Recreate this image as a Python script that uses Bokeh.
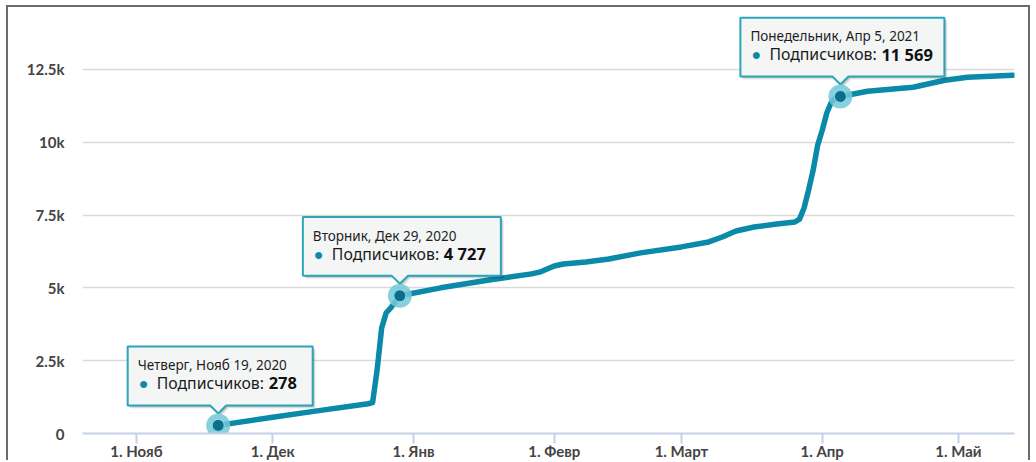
from datetime import datetime, timezone
from bokeh.plotting import figure
from bokeh.models import Range1d, FixedTicker, ColumnDataSource
from bokeh.embed import file_html
from bokeh.resources import INLINE
from bokeh.core.properties import value

# ---------------- data ----------------
dates = ["2020-11-19", "2020-12-01", "2020-12-10", "2020-12-22", "2020-12-23",
         "2020-12-24", "2020-12-25", "2020-12-26", "2020-12-27", "2020-12-28",
         "2020-12-29", "2021-01-07", "2021-01-18", "2021-01-27", "2021-01-29",
         "2021-02-01", "2021-02-03", "2021-02-08", "2021-02-13", "2021-02-20",
         "2021-03-01", "2021-03-07", "2021-03-10", "2021-03-13", "2021-03-17",
         "2021-03-22", "2021-03-26", "2021-03-27", "2021-03-28", "2021-03-29",
         "2021-03-30", "2021-03-31", "2021-04-01", "2021-04-02", "2021-04-03",
         "2021-04-04", "2021-04-05", "2021-04-11", "2021-04-16", "2021-04-21",
         "2021-04-24", "2021-04-28", "2021-05-03", "2021-05-08", "2021-05-13"]
subscribers = [278, 560, 760, 1020, 1060,
               2190, 3630, 4145, 4315, 4520,
               4727, 5000, 5275, 5480, 5550,
               5750, 5820, 5890, 5990, 6200,
               6405, 6575, 6745, 6950, 7090,
               7190, 7260, 7360, 7740, 8360,
               9040, 9900, 10410, 11000, 11370,
               11540, 11569, 11750, 11815, 11885,
               11990, 12125, 12230, 12260, 12300]

x_tick_dates = ["2020-11-01", "2020-12-01", "2021-01-01", "2021-02-01",
                "2021-03-01", "2021-04-01", "2021-05-01"]
x_tick_labels = ["1. Нояб", "1. Дек", "1. Янв", "1. Февр", "1. Март", "1. Апр", "1. Май"]
y_ticks = [0, 2500, 5000, 7500, 10000, 12500]
y_tick_labels = ["0", "2.5k", "5k", "7.5k", "10k", "12.5k"]

series_name = "Подписчиков"
tooltip_dates = ["2020-11-19", "2020-12-29", "2021-04-05"]
tooltip_headers = ["Четверг, Нояб 19, 2020", "Вторник, Дек 29, 2020", "Понедельник, Апр 5, 2021"]
tooltip_values = ["278", "4 727", "11 569"]

# ---------------- helpers / styles ----------------
def ms(s):
    fmt = "%Y-%m-%d %H:%M" if " " in s else "%Y-%m-%d"
    return datetime.strptime(s, fmt).replace(tzinfo=timezone.utc).timestamp() * 1000.0

# canvas sits inside a 2px frame: content x 8..1032, y 7..462
W, H = 1024, 455
BL, BR, BT, BB = 74, 18, 3, 28
FW, FH = W - BL - BR, H - BT - BB
x0, x1 = ms("2020-10-20 03:00"), ms("2021-05-13 08:00")
y0, y1 = 0, 14520
mpp = (x1 - x0) / FW
vpp = (y1 - y0) / FH

LINE = "#0b89a8"
TIP_BORDER = "#2aa6b8"
FONT = "Noto Sans"
AXIS_FONT = "Lato"
tip_widths = [185, 198, 204]

xs = [ms(d) for d in dates]

p = figure(width=W, height=H, output_backend="svg", toolbar_location=None,
           x_range=Range1d(x0, x1), y_range=Range1d(y0, y1),
           min_border_left=BL, min_border_right=BR, min_border_top=BT,
           min_border_bottom=BB)
p.styles = {"border-left": "2px solid #6b6b6b", "border-top": "2px solid #6b6b6b",
            "border-right": "2px solid #6b6b6b", "margin-left": "6px",
            "margin-top": "5px"}
p.outline_line_color = None
p.background_fill_color = "white"
p.border_fill_color = "white"

# axes
p.yaxis.ticker = FixedTicker(ticks=y_ticks)
p.yaxis.major_label_overrides = {t: l for t, l in zip(y_ticks, y_tick_labels)}
p.yaxis.axis_line_color = None
p.yaxis.major_tick_line_color = None
p.yaxis.minor_tick_line_color = None
p.yaxis.major_label_standoff = 12
p.yaxis.major_label_text_font = AXIS_FONT
p.yaxis.major_label_text_font_size = "15px"
p.yaxis.major_label_text_font_style = "bold"
p.yaxis.major_label_text_color = "#444444"

xt = [ms(d) for d in x_tick_dates]
p.xaxis.ticker = FixedTicker(ticks=xt)
p.xaxis.major_label_overrides = {t: l for t, l in zip(xt, x_tick_labels)}
p.xaxis.axis_line_color = "#c5d1e8"
p.xaxis.axis_line_width = 2
p.xaxis.major_tick_line_color = "#c5d1e8"
p.xaxis.major_tick_line_width = 2
p.xaxis.major_tick_out = 10
p.xaxis.major_tick_in = 0
p.xaxis.minor_tick_line_color = None
p.xaxis.major_label_standoff = -2
p.xaxis.major_label_text_font = AXIS_FONT
p.xaxis.major_label_text_font_size = "15px"
p.xaxis.major_label_text_font_style = "bold"
p.xaxis.major_label_text_color = "#444444"

p.xgrid.grid_line_color = None
p.ygrid.grid_line_color = "#dadada"
p.ygrid.grid_line_width = 1.5

# series line
p.line(xs, subscribers, line_width=5.5, line_color=LINE, line_join="round", line_cap="round")

# tooltips
tx = [ms(d) for d in tooltip_dates]
ty = [subscribers[dates.index(d)] for d in tooltip_dates]
for px, py, w in zip(tx, ty, tip_widths):
    l, r, b, t = -w / 2 + 2, w / 2 + 2, 20, 79
    poly = [(l, b), (-8, b), (0, 12), (8, b), (r, b), (r, t), (l, t)]
    for off, a in ((3, 0.08), (2, 0.12), (1, 0.15)):
        p.patch([px + (dx + off) * mpp for dx, dy in poly],
                [py + (dy - off) * vpp for dx, dy in poly],
                fill_color="#000000", fill_alpha=a, line_color=None)
    p.patch([px + dx * mpp for dx, dy in poly], [py + dy * vpp for dx, dy in poly],
            fill_color="#f4f5f5", line_color=TIP_BORDER, line_width=2)

lefts = [-w / 2 + 2 for w in tip_widths]
src = ColumnDataSource(dict(x=tx, y=ty, head=tooltip_headers,
                            name=[series_name + ":"] * 3, val=tooltip_values,
                            bullet=["●"] * 3,
                            hx=[l + 10 for l in lefts], bx=[l + 11 for l in lefts],
                            nx=[l + 29 for l in lefts], vx=[l + 141 for l in lefts]))
p.text(x="x", y="y", text="head", x_offset="hx", y_offset=-60, source=src,
       text_font=value(FONT), text_font_size="13.5px", text_color="#1e1e1e",
       text_baseline="middle", text_align="left")
p.text(x="x", y="y", text="bullet", x_offset="bx", y_offset=-42, source=src,
       text_font=value(FONT), text_font_size="16px", text_color=LINE,
       text_baseline="middle", text_align="left")
p.text(x="x", y="y", text="name", x_offset="nx", y_offset=-42, source=src,
       text_font=value(FONT), text_font_size="15.8px", text_color="#1a1a1a",
       text_baseline="middle", text_align="left")
p.text(x="x", y="y", text="val", x_offset="vx", y_offset=-42, source=src,
       text_font=value(FONT), text_font_size="16.5px", text_font_style="bold",
       text_color="#111111", text_baseline="middle", text_align="left")

# highlighted markers
p.scatter(tx, ty, size=24, fill_color="#72c8d8", fill_alpha=0.85, line_color=None)
p.scatter(tx, ty, size=12, fill_color="#08708c", line_color="#9bd8e3", line_width=1)

open("out.html", "w").write(file_html(p, INLINE))
